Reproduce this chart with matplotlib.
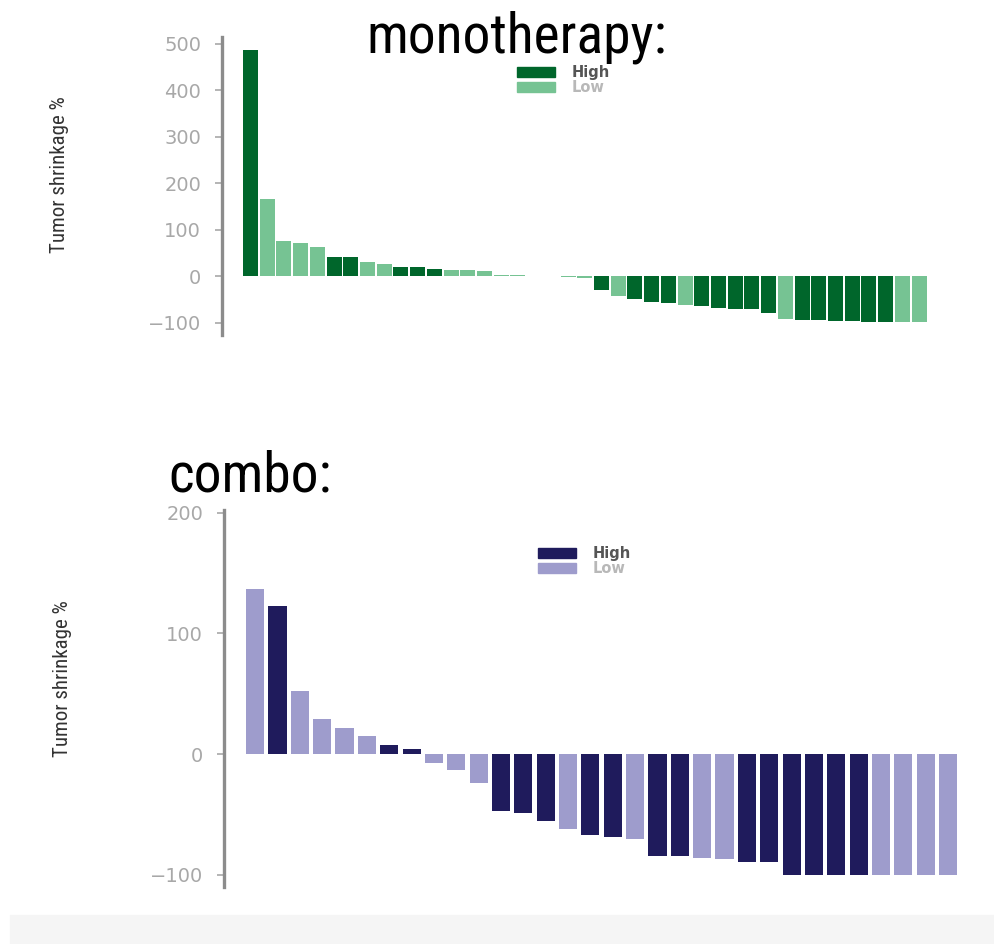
import numpy as np
import matplotlib.pyplot as plt
from matplotlib.patches import Patch, Rectangle

# monotherapy waterfall
mono_values = [486, 165, 75, 72, 62, 40, 40, 31, 26, 20, 20, 16, 14, 13, 10,
               2, 1.5, 1, 0.5, -3, -4, -30, -43, -50, -55, -58, -62, -65, -69,
               -71, -71, -80, -92, -94, -95, -96, -97, -98, -98, -98, -98]
mono_groups = ['High', 'Low', 'Low', 'Low', 'Low', 'High', 'High', 'Low', 'Low',
               'High', 'High', 'High', 'Low', 'Low', 'Low', 'Low', 'Low', 'Low',
               'Low', 'Low', 'Low', 'High', 'Low', 'High', 'High', 'High', 'Low',
               'High', 'High', 'High', 'High', 'High', 'Low', 'High', 'High',
               'High', 'High', 'High', 'High', 'Low', 'Low']
mono_ticks = [-100, 0, 100, 200, 300, 400, 500]

# combo waterfall
combo_values = [137, 123, 52, 29, 22, 15, 8, 4, -7, -13, -24, -47, -49, -55,
                -62, -67, -69, -70, -84, -84, -86, -87, -89, -89, -100, -100,
                -100, -100, -100, -100, -100, -100]
combo_groups = ['Low', 'High', 'Low', 'Low', 'Low', 'Low', 'High', 'High',
                'Low', 'Low', 'Low', 'High', 'High', 'High', 'Low', 'High',
                'High', 'Low', 'High', 'High', 'Low', 'Low', 'High', 'High',
                'High', 'High', 'High', 'High', 'Low', 'Low', 'Low', 'Low']
combo_ticks = [-100, 0, 100, 200]

green = {'High': '#00662b', 'Low': '#76c393'}
purple = {'High': '#1f1b5c', 'Low': '#9e9ccc'}

NARROW = ['Liberation Sans Narrow', 'Roboto Condensed', 'Liberation Sans']


def waterfall(ax, values, groups, cmap, width, ticks, ylim, xlim,
              label_xy, legend_xy):
    x = np.arange(len(values))
    ax.bar(x, values, width=width, color=[cmap[g] for g in groups], linewidth=0)
    ax.set_xlim(*xlim)
    ax.set_ylim(*ylim)
    ax.set_yticks(ticks)
    ax.set_xticks([])
    for s in ['top', 'right', 'bottom']:
        ax.spines[s].set_visible(False)
    ax.spines['left'].set_color('#8c8c8c')
    ax.spines['left'].set_linewidth(2.4)
    ax.tick_params(axis='y', colors='#a8a8a8', length=5, width=1.2,
                   labelsize=14, pad=10)
    ax.set_ylabel('Tumor shrinkage %', family=NARROW, fontsize=15,
                  color='#333333')
    ax.yaxis.set_label_coords(*label_xy)
    handles = [Patch(color=cmap['High']), Patch(color=cmap['Low'])]
    leg = ax.figure.legend(handles, ['High', 'Low'], loc='upper left',
                           bbox_to_anchor=legend_xy, frameon=False,
                           prop={'size': 10.5, 'weight': 'semibold'},
                           handlelength=2.6, handleheight=0.7,
                           labelspacing=0.0, handletextpad=1.1, borderpad=0)
    leg.get_texts()[0].set_color('#555555')
    leg.get_texts()[1].set_color('#b8b8b8')


fig = plt.figure(figsize=(9.94, 9.44), dpi=100)

# light band at the bottom of the picture
fig.patches.append(Rectangle((10 / 994, 0), 1, 29 / 944, transform=fig.transFigure,
                             color='#f5f5f5', zorder=0))

ax1 = fig.add_axes([0.2233, 0.645, 0.717, 0.3157])
waterfall(ax1, mono_values, mono_groups, green, 0.9, mono_ticks,
          (-127, 514), (-1.71, 40.93), (-0.215, 0.537),
          (510 / 994, 1 - 58 / 944))

ax2 = fig.add_axes([0.2254, 0.0604, 0.7455, 0.399])
waterfall(ax2, combo_values, combo_groups, purple, 0.81, combo_ticks,
          (-110, 202), (-1.39, 31.76), (-0.205, 0.554),
          (531 / 994, 1 - 539 / 944))

fig.text(517 / 994, 1 - 52 / 944, 'monotherapy:', family=NARROW, fontsize=40,
         ha='center', va='baseline')
fig.text(250 / 994, 1 - 491 / 944, 'combo:', family=NARROW, fontsize=40,
         ha='center', va='baseline')

fig.savefig('out.png', dpi=100)
